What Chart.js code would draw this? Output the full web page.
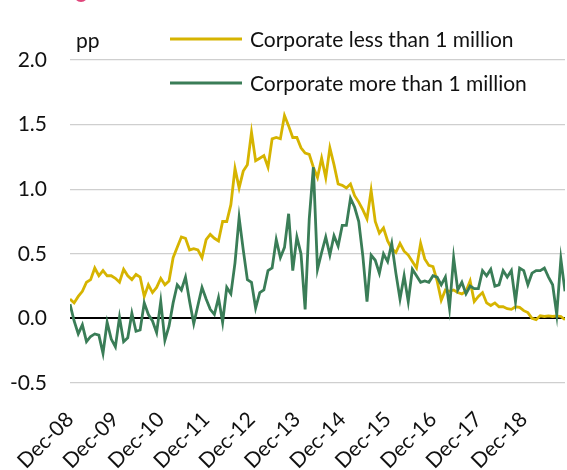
<!DOCTYPE html>
<html>
<head>
<meta charset="utf-8">
<script src="https://cdn.jsdelivr.net/npm/chart.js@4.4.1/dist/chart.umd.min.js"></script>
<style>
  html, body { margin: 0; padding: 0; background: #fff; }
  #chart { display: block; }
</style>
</head>
<body>
<canvas id="chart" width="567" height="470"></canvas>
<script>
// Monthly observations, Dec-08 .. Dec-18 (pp)
const lessThan1m = [
  0.15, 0.12, 0.17, 0.21, 0.28, 0.30, 0.39, 0.33, 0.37, 0.33, 0.33, 0.31,
  0.28, 0.38, 0.33, 0.30, 0.34, 0.32, 0.17, 0.26, 0.20, 0.24, 0.31, 0.26,
  0.29, 0.47, 0.55, 0.63, 0.62, 0.53, 0.54, 0.53, 0.47, 0.61, 0.65, 0.62,
  0.60, 0.75, 0.75, 0.88, 1.16, 1.01, 1.14, 1.19, 1.44, 1.22, 1.24, 1.26,
  1.17, 1.39, 1.40, 1.39, 1.57, 1.49, 1.40, 1.40, 1.32, 1.28, 1.27, 1.17,
  1.09, 1.24, 1.09, 1.32, 1.19, 1.04, 1.03, 1.01, 1.04, 0.95, 0.90, 0.84,
  0.77, 0.99, 0.75, 0.66, 0.70, 0.60, 0.54, 0.51, 0.58, 0.52, 0.49, 0.44,
  0.39, 0.58, 0.46, 0.41, 0.40, 0.29, 0.14, 0.22, 0.21, 0.22, 0.20, 0.19,
  0.21, 0.29, 0.13, 0.17, 0.20, 0.12, 0.10, 0.12, 0.09, 0.09, 0.075, 0.07,
  0.09, 0.085, 0.06, 0.045, 0.00, -0.01, 0.02, 0.015, 0.02, 0.015, 0.02, 0.015,
  -0.01
];
const moreThan1m = [
  0.11, -0.02, -0.12, -0.05, -0.18, -0.14, -0.12, -0.13, -0.27, -0.03, -0.16, -0.22,
  0.01, -0.18, -0.15, 0.04, -0.10, -0.09, 0.12, 0.03, -0.02, -0.11, 0.13, -0.17,
  -0.06, 0.12, 0.26, 0.22, 0.32, 0.13, -0.04, 0.10, 0.24, 0.15, 0.07, 0.03,
  0.16, -0.03, 0.24, 0.19, 0.43, 0.78, 0.53, 0.30, 0.28, 0.08, 0.20, 0.22,
  0.37, 0.39, 0.61, 0.47, 0.55, 0.81, 0.37, 0.63, 0.50, 0.07, 0.77, 1.17,
  0.38, 0.51, 0.63, 0.49, 0.64, 0.56, 0.72, 0.72, 0.93, 0.86, 0.75, 0.48,
  0.13, 0.49, 0.45, 0.35, 0.50, 0.44, 0.58, 0.35, 0.15, 0.33, 0.13, 0.38,
  0.33, 0.28, 0.29, 0.28, 0.33, 0.32, 0.26, 0.32, 0.08, 0.47, 0.22, 0.28,
  0.19, 0.25, 0.23, 0.23, 0.37, 0.33, 0.38, 0.25, 0.26, 0.37, 0.32, 0.37,
  0.13, 0.39, 0.37, 0.26, 0.35, 0.37, 0.37, 0.39, 0.32, 0.26, 0.03, 0.46,
  0.21
];
const seriesNames = ['Corporate less than 1 million', 'Corporate more than 1 million'];
const tickLabels = ['Dec-08', 'Dec-09', 'Dec-10', 'Dec-11', 'Dec-12', 'Dec-13',
                    'Dec-14', 'Dec-15', 'Dec-16', 'Dec-17', 'Dec-18'];
const yTicks = [-0.5, 0, 0.5, 1.0, 1.5, 2.0];

const FONT = 'Lato, "Open Sans", sans-serif';
const YELLOW = '#D6B400';
const GREEN = '#3A7D57';
const LABEL_STEP = 11; // labels in the source sit about 11 points apart

const toPoints = arr => arr.map((v, i) => ({ x: i, y: v }));

// Legend, unit label and the cut-off marker at the top
const overlay = {
  id: 'overlay',
  afterDraw(chart) {
    const ctx = chart.ctx;
    ctx.save();
    ctx.fillStyle = '#E0457B';
    ctx.beginPath();
    ctx.arc(81, -5, 7, 0, Math.PI * 2);
    ctx.fill();

    ctx.fillStyle = '#111';
    ctx.font = '21px ' + FONT;
    ctx.textBaseline = 'alphabetic';
    ctx.textAlign = 'left';
    ctx.fillText('pp', 76, 48);

    const rows = [39, 83];
    chart.data.datasets.forEach((ds, i) => {
      const y = rows[i];
      ctx.strokeStyle = ds.borderColor;
      ctx.lineWidth = 2.8;
      ctx.beginPath();
      ctx.moveTo(170, y);
      ctx.lineTo(242, y);
      ctx.stroke();
      ctx.fillStyle = '#111';
      ctx.fillText(ds.label, 250, y + 7.5);
    });
    ctx.restore();
  }
};

new Chart(document.getElementById('chart'), {
  type: 'line',
  data: {
    datasets: [{
      label: seriesNames[0],
      data: toPoints(lessThan1m),
      borderColor: YELLOW,
      borderWidth: 2.8,
      pointRadius: 0,
      tension: 0,
      order: 2
    }, {
      label: seriesNames[1],
      data: toPoints(moreThan1m),
      borderColor: GREEN,
      borderWidth: 2.8,
      pointRadius: 0,
      tension: 0,
      order: 1
    }]
  },
  options: {
    responsive: false,
    animation: false,
    layout: { padding: { top: 60, right: 2, left: 0, bottom: 0 } },
    plugins: { legend: { display: false }, tooltip: { enabled: false } },
    scales: {
      x: {
        type: 'linear',
        min: 0,
        max: lessThan1m.length - 1,
        afterBuildTicks: axis => {
          axis.ticks = tickLabels.map((_, i) => ({ value: i * LABEL_STEP }));
        },
        afterFit: axis => { axis.height = 87; },
        grid: { display: false },
        border: { display: false },
        ticks: {
          autoSkip: false,
          minRotation: 45,
          maxRotation: 45,
          padding: 16,
          color: '#111',
          font: { family: FONT, size: 21 },
          callback: (v, i) => tickLabels[i]
        }
      },
      y: {
        min: -0.5,
        max: 2.0,
        afterBuildTicks: axis => {
          axis.ticks = yTicks.map(v => ({ value: v }));
        },
        afterFit: axis => { axis.width = 70; },
        border: { display: false },
        grid: {
          drawTicks: false,
          color: ctx => ctx.tick && ctx.tick.value === 0 ? '#000' : '#cfcfcf',
          lineWidth: ctx => ctx.tick && ctx.tick.value === 0 ? 2 : 1.2
        },
        ticks: {
          padding: 23,
          color: '#111',
          font: { family: FONT, size: 21 },
          callback: v => v.toFixed(1)
        }
      }
    }
  },
  plugins: [overlay]
});
</script>
</body>
</html>
